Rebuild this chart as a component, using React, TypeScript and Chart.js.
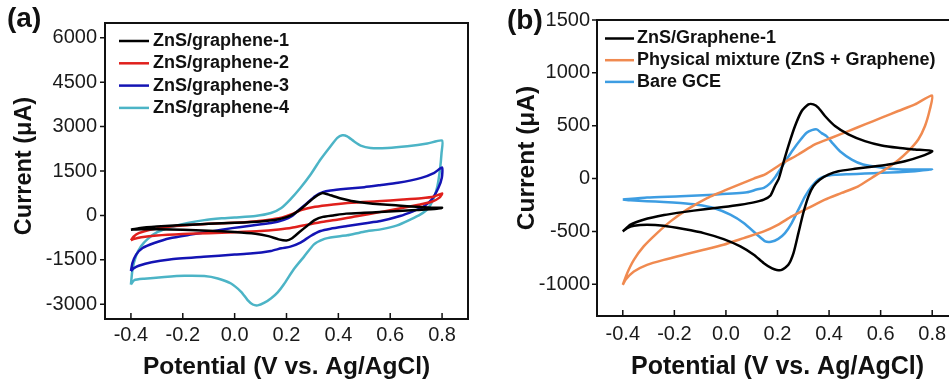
import React, { useEffect, useRef } from "react";
import { Chart, registerables } from "chart.js";

Chart.register(...registerables);

const FONT = "'Liberation Sans', Arial, Helvetica, sans-serif";

// ---------- shared axis ticks ----------
const potentialTicks = [-0.4, -0.2, 0.0, 0.2, 0.4, 0.6, 0.8];
const currentTicksA = [-3000, -1500, 0, 1500, 3000, 4500, 6000];
const currentTicksB = [-1000, -500, 0, 500, 1000, 1500];

// ---------- panel (a) ----------
const labelsA = ["ZnS/graphene-1", "ZnS/graphene-2", "ZnS/graphene-3", "ZnS/graphene-4"];
const colorsA = ["#000000", "#e0201c", "#1414b4", "#4cb4c6"];

const g1V = [-0.4, -0.37, -0.3, -0.2, -0.1, 0.0, 0.1, 0.16, 0.2, 0.23, 0.26, 0.29, 0.32, 0.34, 0.37, 0.41, 0.45, 0.5, 0.56, 0.63, 0.7, 0.76, 0.8,
  0.78, 0.7, 0.63, 0.56, 0.5, 0.43, 0.38, 0.34, 0.31, 0.28, 0.25, 0.22, 0.2, 0.17, 0.13, 0.08, 0.0, -0.1, -0.2, -0.3, -0.36, -0.4];
const g1I = [-483, -430, -375, -325, -285, -250, -205, -150, -60, 60, 250, 480, 680, 760, 680, 570, 490, 430, 375, 335, 290, 262, 258,
  225, 180, 146, 112, 90, 60, 0, -50, -150, -350, -560, -780, -850, -810, -700, -620, -560, -515, -485, -468, -465, -483];

const g2V = [-0.4, -0.39, -0.37, -0.33, -0.26, -0.15, -0.05, 0.05, 0.12, 0.18, 0.22, 0.26, 0.31, 0.38, 0.45, 0.55, 0.65, 0.72, 0.77, 0.8,
  0.79, 0.76, 0.71, 0.64, 0.56, 0.47, 0.4, 0.33, 0.27, 0.22, 0.17, 0.1, 0.0, -0.1, -0.2, -0.3, -0.36, -0.39, -0.4];
const g2I = [-842, -720, -600, -490, -390, -310, -265, -220, -160, -80, 40, 190, 290, 370, 430, 480, 535, 580, 640, 740,
  600, 460, 360, 240, 110, -30, -140, -230, -330, -420, -475, -530, -570, -600, -630, -680, -740, -800, -842];

const g3V = [-0.4, -0.394, -0.38, -0.355, -0.31, -0.25, -0.17, -0.09, -0.01, 0.06, 0.14, 0.19, 0.22, 0.25, 0.28, 0.31, 0.34, 0.37, 0.43, 0.5, 0.56, 0.63, 0.72, 0.77, 0.8,
  0.799, 0.786, 0.76, 0.728, 0.69, 0.638, 0.563, 0.499, 0.434, 0.37, 0.331, 0.293, 0.254, 0.215, 0.18, 0.14, 0.06, 0.0, -0.12, -0.25, -0.32, -0.37, -0.39, -0.4];
const g3I = [-1880, -1606, -1325, -1100, -932, -770, -650, -540, -430, -350, -260, -150, -30, 200, 420, 650, 786, 842, 900, 955, 1020, 1100, 1269, 1437, 1620,
  1269, 932, 539, 292, 146, -22, -191, -270, -359, -449, -528, -696, -921, -1055, -1110, -1200, -1290, -1320, -1400, -1490, -1580, -1700, -1790, -1880];

const g4V = [-0.4, -0.394, -0.381, -0.361, -0.336, -0.297, -0.246, -0.181, -0.117, -0.05, 0.0, 0.08, 0.14, 0.18, 0.215, 0.254, 0.293, 0.331, 0.37, 0.396, 0.415, 0.434, 0.46, 0.486, 0.524, 0.589, 0.666, 0.743, 0.8,
  0.798, 0.792, 0.782, 0.766, 0.743, 0.717, 0.679, 0.627, 0.563, 0.499, 0.434, 0.383, 0.344, 0.306, 0.267, 0.228, 0.19, 0.166, 0.141, 0.115, 0.089, 0.07, 0.05, 0.025, -0.014, -0.065, -0.117, -0.194, -0.271, -0.349, -0.387, -0.4];
const g4I = [-2336, -1830, -1381, -1044, -800, -560, -400, -260, -160, -100, -70, -20, 80, 250, 540, 932, 1381, 1887, 2336, 2617, 2706, 2673, 2504, 2358, 2280, 2280, 2336, 2426, 2527,
  2111, 1550, 988, 539, 202, 34, -135, -337, -472, -550, -674, -730, -800, -977, -1400, -1819, -2325, -2600, -2800, -2950, -3040, -3010, -2860, -2580, -2300, -2130, -2050, -2040, -2080, -2140, -2190, -2336];

const seriesA = [[g1V, g1I], [g2V, g2I], [g3V, g3I], [g4V, g4I]];

// ---------- panel (b) ----------
const labelsB = ["ZnS/Graphene-1", "Physical mixture (ZnS + Graphene)", "Bare GCE"];
const colorsB = ["#000000", "#f08a50", "#3d9de2"];

const b1V = [-0.4, -0.37, -0.32, -0.24, -0.16, -0.09, -0.01, 0.056, 0.108, 0.147, 0.173, 0.19, 0.205, 0.218, 0.242, 0.268, 0.294, 0.32, 0.339, 0.358, 0.384, 0.423, 0.475, 0.539, 0.604, 0.668, 0.733, 0.8,
  0.759, 0.694, 0.63, 0.565, 0.5, 0.436, 0.397, 0.365, 0.339, 0.32, 0.3, 0.281, 0.262, 0.242, 0.216, 0.197, 0.179, 0.147, 0.108, 0.056, -0.009, -0.086, -0.164, -0.241, -0.306, -0.357, -0.383, -0.4];
const b1I = [-500, -436, -389, -345, -315, -292, -269, -247, -225, -199, -160, -70, 0, 110, 307, 497, 639, 702, 702, 671, 592, 497, 418, 354, 313, 291, 275, 259,
  212, 164, 133, 111, 92, 70, 38, -9, -73, -168, -326, -516, -705, -816, -864, -864, -850, -800, -721, -642, -573, -516, -478, -446, -436, -446, -468, -500];

const b2V = [-0.4, -0.383, -0.357, -0.319, -0.267, -0.215, -0.151, -0.073, 0.017, 0.108, 0.152, 0.216, 0.281, 0.345, 0.41, 0.475, 0.539, 0.604, 0.668, 0.733, 0.8,
  0.791, 0.772, 0.746, 0.707, 0.668, 0.617, 0.565, 0.513, 0.449, 0.384, 0.32, 0.255, 0.203, 0.147, 0.069, -0.009, -0.086, -0.164, -0.241, -0.306, -0.357, -0.39, -0.4];
const b2I = [-1006, -895, -769, -642, -516, -405, -294, -185, -90, 0, 40, 140, 228, 323, 386, 449, 512, 576, 639, 702, 785,
  655, 497, 370, 259, 174, 85, 6, -73, -136, -199, -278, -357, -436, -500, -563, -626, -674, -721, -769, -816, -879, -958, -1006];

const b3V = [-0.4, -0.306, -0.176, -0.047, 0.082, 0.119, 0.147, 0.171, 0.19, 0.21, 0.235, 0.261, 0.287, 0.313, 0.333, 0.352, 0.371, 0.39, 0.415, 0.442, 0.488, 0.532, 0.6, 0.662, 0.733, 0.8,
  0.733, 0.668, 0.604, 0.539, 0.475, 0.423, 0.384, 0.358, 0.333, 0.307, 0.281, 0.255, 0.229, 0.203, 0.175, 0.153, 0.121, 0.069, 0.017, -0.047, -0.112, -0.176, -0.241, -0.306, -0.37, -0.4];
const b3I = [-199, -180, -168, -152, -130, -104, -88, -45, 10, 85, 180, 275, 360, 433, 458, 465, 430, 402, 330, 259, 180, 133, 105, 88, 85, 85,
  70, 60, 54, 47, 41, 35, 22, -9, -73, -168, -294, -421, -516, -570, -598, -595, -531, -421, -342, -278, -247, -231, -221, -215, -206, -199];

const seriesB = [[b1V, b1I], [b2V, b2I], [b3V, b3I]];

type PanelCfg = {
  labels: string[];
  colors: string[];
  series: number[][][];
  yTicks: number[];
  yMin: number;
  yMax: number;
  yAxisWidth: number;
  xAxisHeight: number;
  pad: { left: number; right: number; top: number; bottom: number };
  yTickPad: number;
  xTickPad: number;
  xTitleSize: number;
  xTitlePadBottom: number;
  yTitleX: number;
  yTitleY: number;
  yTitleSize: number;
  legendLine: [number, number];
  legendTextX: number;
  legendY0: number;
  legendDy: number;
  panelLabel: string;
  panelLabelX: number;
  panelLabelY: number;
};

function decorPlugin(cfg: PanelCfg) {
  return {
    id: "decor",
    afterDraw(chart: any) {
      const { ctx, chartArea: ca, scales } = chart;
      const xs = scales.x;
      const ys = scales.y;
      ctx.save();
      ctx.strokeStyle = "#111";
      ctx.lineWidth = 2;
      ctx.strokeRect(ca.left, ca.top, ca.right - ca.left, ca.bottom - ca.top);
      ctx.lineWidth = 1.5;
      ctx.beginPath();
      for (const t of ys.ticks) {
        const y = ys.getPixelForValue(t.value);
        ctx.moveTo(ca.left - 5, y);
        ctx.lineTo(ca.left, y);
      }
      for (const t of xs.ticks) {
        const x = xs.getPixelForValue(t.value);
        ctx.moveTo(x, ca.bottom);
        ctx.lineTo(x, ca.bottom - 6);
      }
      ctx.stroke();

      // legend
      ctx.font = `bold 18px ${FONT}`;
      ctx.textBaseline = "middle";
      ctx.textAlign = "left";
      chart.data.datasets.forEach((ds: any, i: number) => {
        const y = cfg.legendY0 + i * cfg.legendDy;
        ctx.strokeStyle = ds.borderColor;
        ctx.lineWidth = 2.5;
        ctx.beginPath();
        ctx.moveTo(ca.left + cfg.legendLine[0], y);
        ctx.lineTo(ca.left + cfg.legendLine[1], y);
        ctx.stroke();
        ctx.fillStyle = "#111";
        ctx.fillText(ds.label, ca.left + cfg.legendTextX, y);
      });

      // panel label
      ctx.font = `bold 28px ${FONT}`;
      ctx.fillStyle = "#111";
      ctx.fillText(cfg.panelLabel, cfg.panelLabelX, cfg.panelLabelY);

      // y title
      ctx.translate(cfg.yTitleX, cfg.yTitleY);
      ctx.rotate(-Math.PI / 2);
      ctx.textAlign = "center";
      ctx.font = `bold ${cfg.yTitleSize}px ${FONT}`;
      ctx.fillText("Current (\u03bcA)", 0, 0);
      ctx.restore();
    },
  };
}

function buildChart(canvas: HTMLCanvasElement, cfg: PanelCfg) {
  const datasets = cfg.series.map(([v, c], i) => ({
    label: cfg.labels[i],
    data: v.map((x, k) => ({ x, y: c[k] })),
    borderColor: cfg.colors[i],
    backgroundColor: cfg.colors[i],
    borderWidth: 2.5,
    showLine: true,
    pointRadius: 0,
    tension: 0.2,
    fill: false,
  }));
  return new Chart(canvas, {
    type: "scatter",
    data: { datasets },
    plugins: [decorPlugin(cfg)],
    options: {
      responsive: false,
      animation: false,
      layout: { padding: cfg.pad },
      plugins: { legend: { display: false }, tooltip: { enabled: false } },
      scales: {
        x: {
          type: "linear",
          min: -0.5,
          max: 0.9,
          grid: { display: false, drawTicks: false },
          border: { display: false },
          afterBuildTicks: (s: any) => {
            s.ticks = potentialTicks.map((value) => ({ value }));
          },
          afterFit: (s: any) => {
            s.height = cfg.xAxisHeight;
          },
          ticks: {
            autoSkip: false,
            maxRotation: 0,
            padding: cfg.xTickPad,
            color: "#1a1a1a",
            font: { size: 20, family: FONT },
            callback: (v: any) => Number(v).toFixed(1),
          },
          title: {
            display: true,
            text: "Potential (V vs. Ag/AgCl)",
            color: "#111",
            font: { size: cfg.xTitleSize, weight: "bold", family: FONT },
            padding: { top: 0, bottom: cfg.xTitlePadBottom },
          },
        },
        y: {
          type: "linear",
          min: cfg.yMin,
          max: cfg.yMax,
          grid: { display: false, drawTicks: false },
          border: { display: false },
          afterBuildTicks: (s: any) => {
            s.ticks = cfg.yTicks.map((value) => ({ value }));
          },
          afterFit: (s: any) => {
            s.width = cfg.yAxisWidth;
          },
          ticks: {
            autoSkip: false,
            padding: cfg.yTickPad,
            color: "#1a1a1a",
            font: { size: 20, family: FONT },
            callback: (v: any) => String(v),
          },
        },
      },
    } as any,
  });
}

const cfgA: PanelCfg = {
  labels: labelsA,
  colors: colorsA,
  series: seriesA,
  yTicks: currentTicksA,
  yMin: -3500,
  yMax: 6500,
  yAxisWidth: 105,
  xAxisHeight: 64,
  pad: { left: 0, right: 8, top: 23, bottom: 0 },
  yTickPad: 8,
  xTickPad: 4,
  xTitleSize: 24.5,
  xTitlePadBottom: 1,
  yTitleX: 25,
  yTitleY: 166,
  yTitleSize: 23.5,
  legendLine: [14, 44],
  legendTextX: 48,
  legendY0: 41,
  legendDy: 22.3,
  panelLabel: "(a)",
  panelLabelX: 7,
  panelLabelY: 19,
};

const cfgB: PanelCfg = {
  labels: labelsB,
  colors: colorsB,
  series: seriesB,
  yTicks: currentTicksB,
  yMin: -1300,
  yMax: 1500,
  yAxisWidth: 117,
  xAxisHeight: 67,
  pad: { left: 0, right: 7, top: 20, bottom: 0 },
  yTickPad: 7,
  xTickPad: 6,
  xTitleSize: 25,
  xTitlePadBottom: 1,
  yTitleX: 47,
  yTitleY: 158,
  yTitleSize: 24.5,
  legendLine: [8, 37],
  legendTextX: 40,
  legendY0: 38.5,
  legendDy: 21.7,
  panelLabel: "(b)",
  panelLabelX: 27,
  panelLabelY: 21,
};

export default function App() {
  const refA = useRef<HTMLCanvasElement>(null);
  const refB = useRef<HTMLCanvasElement>(null);
  useEffect(() => {
    const a = buildChart(refA.current!, cfgA);
    const b = buildChart(refB.current!, cfgB);
    return () => {
      a.destroy();
      b.destroy();
    };
  }, []);
  return (
    <div
      style={{
        position: "fixed",
        left: 0,
        top: 0,
        width: 949,
        height: 383,
        overflow: "hidden",
        background: "#fff",
      }}
    >
      <canvas ref={refA} width={476} height={383} style={{ position: "absolute", left: 0, top: 0, width: 476, height: 383 }} />
      <canvas ref={refB} width={485} height={383} style={{ position: "absolute", left: 480, top: 0, width: 485, height: 383 }} />
    </div>
  );
}
